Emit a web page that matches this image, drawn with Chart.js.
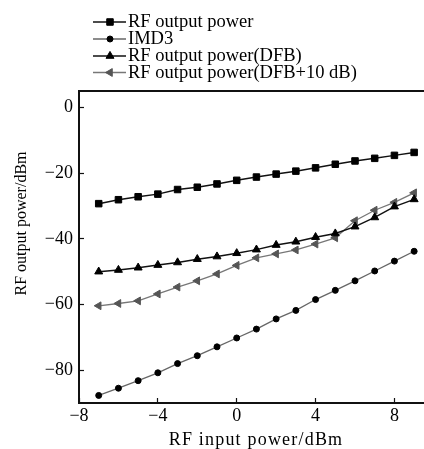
<!DOCTYPE html>
<html>
<head>
<meta charset="utf-8">
<script src="https://cdn.jsdelivr.net/npm/chart.js@4/dist/chart.umd.min.js"></script>
<style>
  html, body { margin: 0; padding: 0; background: #fff; overflow: hidden; }
  #wrap { position: relative; width: 424px; height: 449px; }
</style>
</head>
<body>
<div id="wrap"><canvas id="c"></canvas></div>
<script>
// ---- data ----
const inputPower = [-7, -6, -5, -4, -3, -2, -1, 0, 1, 2, 3, 4, 5, 6, 7, 8, 9];
const rfOutputPower = [-29.3, -28.1, -27.2, -26.4, -25.0, -24.3, -23.3, -22.2, -21.2, -20.3, -19.4, -18.4, -17.3, -16.3, -15.5, -14.6, -13.7];
const imd3 = [-87.7, -85.5, -83.2, -80.8, -78.0, -75.6, -72.9, -70.2, -67.5, -64.4, -61.8, -58.5, -55.7, -52.8, -49.8, -46.8, -43.8];
const rfOutputDFB = [-50.0, -49.5, -48.8, -48.0, -47.2, -46.2, -45.4, -44.4, -43.3, -41.9, -40.9, -39.5, -38.4, -36.3, -33.5, -30.2, -28.0];
const rfOutputDFB10 = [-60.4, -59.7, -58.9, -56.8, -54.7, -52.8, -50.7, -48.1, -45.8, -44.6, -43.4, -41.6, -39.7, -34.5, -31.3, -28.9, -26.0];
const seriesLabels = ['RF output power', 'IMD3', 'RF output power(DFB)', 'RF output power(DFB+10 dB)'];
const xTicks = [-8, -4, 0, 4, 8];
const yTicks = [-80, -60, -40, -20, 0];
const xTitle = 'RF input power/dBm';
const yTitle = 'RF output power/dBm';

const FONT = '"Liberation Serif", "Times New Roman", serif';
const minus = v => String(v).replace('-', '\u2212');
const pts = arr => inputPower.map((x, i) => ({ x: x, y: arr[i] }));

const datasets = [
  { label: seriesLabels[0], data: pts(rfOutputPower), borderColor: '#111', backgroundColor: '#000',
    pointBackgroundColor: '#000', pointBorderColor: '#000', pointStyle: 'rect', pointRadius: 4.6, pointRotation: 0, borderWidth: 1.5 },
  { label: seriesLabels[1], data: pts(imd3), borderColor: '#666', backgroundColor: '#000',
    pointBackgroundColor: '#000', pointBorderColor: '#000', pointStyle: 'circle', pointRadius: 3, pointRotation: 0, borderWidth: 1.3 },
  { label: seriesLabels[2], data: pts(rfOutputDFB), borderColor: '#111', backgroundColor: '#000',
    pointBackgroundColor: '#000', pointBorderColor: '#000', pointStyle: 'triangle', pointRadius: 4.6, pointRotation: 0, borderWidth: 1.5 },
  { label: seriesLabels[3], data: pts(rfOutputDFB10), borderColor: '#777', backgroundColor: '#555',
    pointBackgroundColor: '#555', pointBorderColor: '#555', pointStyle: 'triangle', pointRadius: 4.5, pointRotation: -90, borderWidth: 1.3 }
];
datasets.forEach(d => { d.showLine = true; d.fill = false; d.tension = 0; d.pointBorderWidth = 1; d.pointHoverRadius = d.pointRadius; });

function drawMarker(ctx, ds, x, y) {
  const opts = { pointStyle: ds.pointStyle, radius: ds.pointRadius, rotation: ds.pointRotation, borderWidth: 1 };
  ctx.save();
  ctx.fillStyle = ds.pointBackgroundColor;
  ctx.strokeStyle = ds.pointBorderColor;
  ctx.lineWidth = 1;
  if (Chart.helpers && Chart.helpers.drawPoint) {
    Chart.helpers.drawPoint(ctx, opts, x, y);
  } else {
    ctx.beginPath(); ctx.arc(x, y, ds.pointRadius, 0, Math.PI * 2); ctx.fill();
  }
  ctx.restore();
}

const decor = {
  id: 'decor',
  afterDraw(chart) {
    const ctx = chart.ctx;
    const a = chart.chartArea;
    ctx.save();
    // top frame line
    ctx.strokeStyle = '#111';
    ctx.lineWidth = 2;
    ctx.beginPath();
    ctx.moveTo(a.left - 1, a.top);
    ctx.lineTo(chart.width, a.top);
    ctx.stroke();

    // legend
    const rowY = [22, 39, 56, 72.5];
    chart.data.datasets.forEach((ds, i) => {
      const y = rowY[i];
      ctx.strokeStyle = ds.borderColor;
      ctx.lineWidth = 1.6;
      ctx.beginPath();
      ctx.moveTo(93, y);
      ctx.lineTo(126, y);
      ctx.stroke();
      drawMarker(ctx, ds, 110, y);
      ctx.fillStyle = '#000';
      ctx.font = '18.5px ' + FONT;
      ctx.textAlign = 'left';
      ctx.textBaseline = 'middle';
      ctx.fillText(ds.label, 128, y + 0.5);
    });

    // x title
    ctx.fillStyle = '#000';
    ctx.font = '18px ' + FONT;
    ctx.textAlign = 'center';
    ctx.textBaseline = 'alphabetic';
    try { ctx.letterSpacing = '1.2px'; } catch (e) {}
    ctx.fillText(xTitle, 256, 445);
    try { ctx.letterSpacing = '0px'; } catch (e) {}

    // y title
    ctx.save();
    ctx.translate(22, 223.5);
    ctx.rotate(-Math.PI / 2);
    ctx.font = '16px ' + FONT;
    ctx.textAlign = 'center';
    ctx.textBaseline = 'middle';
    ctx.fillText(yTitle, 0, 0);
    ctx.restore();

    ctx.restore();
  }
};

new Chart(document.getElementById('c'), {
  type: 'scatter',
  data: { datasets: datasets },
  options: {
    responsive: true,
    maintainAspectRatio: false,
    animation: false,
    events: [],
    layout: { autoPadding: false, padding: { top: 91, left: 0, right: 0, bottom: 0 } },
    plugins: { legend: { display: false }, tooltip: { enabled: false }, title: { display: false } },
    scales: {
      x: {
        type: 'linear', position: 'bottom', min: -8, max: 9.5,
        afterBuildTicks: s => { s.ticks = xTicks.map(v => ({ value: v })); },
        afterFit: s => { s.height = 46; s.paddingLeft = 0; s.paddingRight = 0; },
        grid: { drawOnChartArea: false, drawTicks: true, tickLength: -5, tickColor: '#111', tickWidth: 1.2 },
        border: { display: true, color: '#111', width: 2 },
        ticks: { color: '#000', font: { family: FONT, size: 18 }, padding: 7, maxRotation: 0, callback: v => minus(v) },
        title: { display: false }
      },
      y: {
        type: 'linear', position: 'left', min: -90, max: 5,
        afterBuildTicks: s => { s.ticks = yTicks.map(v => ({ value: v })); },
        afterFit: s => { s.width = 79; },
        grid: { drawOnChartArea: false, drawTicks: true, tickLength: -5, tickColor: '#111', tickWidth: 1.2 },
        border: { display: true, color: '#111', width: 2 },
        ticks: { color: '#000', font: { family: FONT, size: 18 }, padding: 11, callback: v => minus(v) },
        title: { display: false }
      }
    }
  },
  plugins: [decor]
});
</script>
</body>
</html>
